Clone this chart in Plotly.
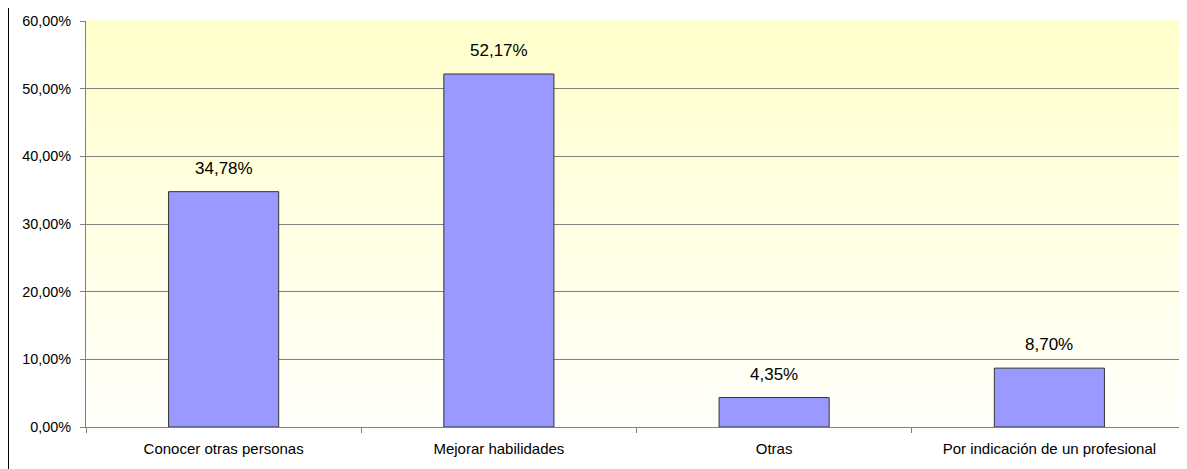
import plotly.graph_objects as go

categories = ["Conocer otras personas", "Mejorar habilidades", "Otras", "Por indicación de un profesional"]
values = [34.78, 52.17, 4.35, 8.70]
tick_vals = [0, 10, 20, 30, 40, 50, 60]
tick_text = ["0,00%", "10,00%", "20,00%", "30,00%", "40,00%", "50,00%", "60,00%"]
value_labels = [f"{v:.2f}".replace(".", ",") + "%" for v in values]

FONT = "Liberation Sans, Arial, sans-serif"

fig = go.Figure()
fig.add_trace(go.Bar(
    x=categories, y=values, width=0.4,
    marker=dict(color="#9999FF", line=dict(color="#333333", width=1)),
    hoverinfo="skip",
))

for c, v, t in zip(categories, values, value_labels):
    fig.add_annotation(x=c, y=v, text=t, showarrow=False, yanchor="bottom",
                       yshift=12, font=dict(family=FONT, size=17, color="#000000"))

# gradient background bands (yellow top -> white bottom)
n = 80
top = (255, 255, 204)
bot = (255, 255, 250)
for i in range(n):
    f = i / (n - 1)
    col = tuple(int(round(bot[k] + (top[k] - bot[k]) * f)) for k in range(3))
    fig.add_shape(type="rect", xref="paper", yref="paper",
                  x0=0, x1=1, y0=i / n, y1=(i + 1) / n + 0.002,
                  fillcolor="rgb(%d,%d,%d)" % col, line=dict(width=0), layer="below")

# outer chart border (left edge)
fig.add_shape(type="line", xref="paper", yref="paper",
              x0=-77.5 / 1101, x1=-77.5 / 1101, y0=-0.3, y1=1.3,
              line=dict(color="#000000", width=1))

fig.update_layout(
    width=1179, height=461,
    margin=dict(l=78, r=0, t=13, b=42, autoexpand=False),
    paper_bgcolor="#FFFFFF", plot_bgcolor="rgba(0,0,0,0)",
    showlegend=False,
    font=dict(family=FONT, size=14, color="#000000"),
    bargap=0.6,
)
fig.update_xaxes(
    showline=True, linecolor="#808080", linewidth=1,
    ticks="outside", ticklen=5, tickcolor="#808080", tickson="boundaries",
    tickfont=dict(family=FONT, size=15, color="#000000"),
    ticklabelstandoff=8,
    showgrid=False, range=[-0.5, 3.5],
)
fig.update_yaxes(
    range=[0, 60], tickvals=tick_vals, ticktext=tick_text,
    showline=True, linecolor="#808080", linewidth=1,
    ticks="outside", ticklen=5, tickcolor="#808080",
    ticklabelstandoff=6,
    showgrid=True, gridcolor="#808080", gridwidth=1,
    tickfont=dict(family=FONT, size=14.4, color="#000000"),
    zeroline=False,
)

fig.write_html("out.html")
